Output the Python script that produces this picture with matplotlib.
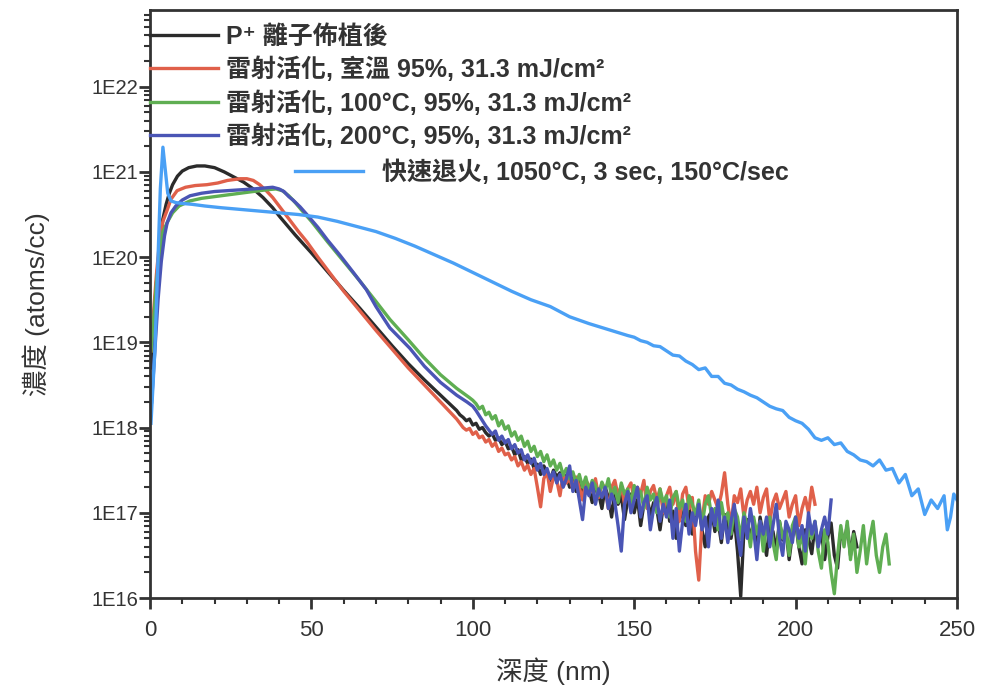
import numpy as np
import matplotlib
matplotlib.use("Agg")
import matplotlib.pyplot as plt
from matplotlib.ticker import LogLocator, MultipleLocator, FixedLocator, FixedFormatter, NullFormatter

# ---------------- data (depth in nm, concentration as log10 atoms/cc) ----------------
# smooth (upper) parts of the profiles
black_x_s = [0.3, 1.0, 2.0, 3.0, 4.0, 5.0, 6.0, 7.0, 8.5, 10, 12, 14.5, 17, 20, 23, 26, 29, 32, 35, 38,
             40.3, 45, 50, 55, 60, 65, 70, 75, 80, 85, 90, 95]
black_l_s = [18.7, 19.1, 19.7, 20.15, 20.45, 20.62, 20.75, 20.85, 20.95, 21.01, 21.05, 21.07, 21.07, 21.05,
             21.0, 20.94, 20.88, 20.8, 20.7, 20.58, 20.47, 20.26, 20.05, 19.83, 19.61, 19.4, 19.18, 18.96,
             18.75, 18.56, 18.38, 18.2]
black_tail_start = 96
black_tail = [18.15, 18.12, 18.08, 18.1, 18.03, 18.05, 17.98, 18.0, 17.94, 17.9,
              17.93, 17.85, 17.88, 17.8, 17.84, 17.75, 17.78, 17.68, 17.74, 17.62,
              17.66, 17.58, 17.63, 17.52, 17.57, 17.45, 17.55, 17.48, 17.38, 17.5,
              17.42, 17.47, 17.35, 17.44, 17.3, 17.41, 17.25, 17.38, 17.2, 17.36,
              17.28, 17.12, 17.34, 17.22, 17.05, 17.3, 17.18, 16.95, 17.25, 17.1,
              17.2, 16.92, 17.15, 17.22, 17.0, 17.18, 16.85, 17.1, 17.2, 16.95,
              17.12, 17.05, 16.8, 17.08, 17.15, 16.9, 17.02, 16.7, 17.1, 16.95,
              16.85, 17.05, 16.75, 16.98, 17.08, 16.8, 16.6, 16.95, 17.02, 16.78,
              16.9, 16.65, 16.98, 16.85, 16.7, 16.95, 16.55, 16.02, 16.8, 16.92,
              16.7, 16.88, 16.6, 16.95, 16.72, 16.5, 16.85, 16.78, 16.55, 16.9,
              16.68, 16.82, 16.45, 16.75, 16.88, 16.6, 16.4, 16.8, 16.7, 16.52,
              16.85, 16.62, 16.78, 16.45, 16.72, 16.88, 16.5, 16.35, 16.8, 16.65,
              16.85, 16.5, 16.78, 16.6]

red_x_s = [0.3, 1.0, 2.0, 3.0, 4.0, 5.3, 6.5, 8.4, 11, 14, 17.6, 21, 24, 27.9, 30, 32, 34, 36, 38, 40,
           43, 46, 48.6, 52, 56, 60, 65, 70, 75, 80, 85, 90, 95]
red_l_s = [18.9, 19.3, 19.8, 20.2, 20.42, 20.55, 20.68, 20.78, 20.82, 20.84, 20.85, 20.87, 20.9, 20.92,
           20.92, 20.9, 20.85, 20.78, 20.7, 20.6, 20.45, 20.3, 20.18, 20.0, 19.8, 19.6, 19.37, 19.14,
           18.92, 18.7, 18.5, 18.3, 18.1]
red_tail_start = 96
red_tail = [18.05, 18.0, 17.97, 17.99, 17.92, 17.95, 17.88, 17.9, 17.83, 17.86,
            17.78, 17.82, 17.72, 17.76, 17.68, 17.7, 17.62, 17.66, 17.55, 17.6,
            17.5, 17.56, 17.45, 17.52, 17.3, 17.07, 17.4, 17.48, 17.25, 17.42,
            17.38, 17.2, 17.45, 17.35, 17.4, 17.28, 17.42, 17.3, 17.15, 17.38,
            17.32, 17.25, 17.4, 17.18, 17.35, 17.28, 17.05, 17.3, 17.38, 17.2,
            17.32, 17.1, 17.28, 17.35, 17.15, 17.3, 17.22, 17.38, 17.05, 17.25,
            17.32, 17.15, 17.28, 17.0, 17.2, 17.3, 17.1, 17.25, 16.9, 17.22,
            17.3, 17.05, 17.18, 16.55, 16.21, 16.9, 17.2, 17.1, 17.25, 17.15,
            17.05, 17.22, 17.47, 17.1, 16.85, 17.2, 17.12, 17.28, 16.95, 17.15,
            17.25, 17.1, 17.3, 17.0, 17.18, 17.28, 16.9, 17.12, 17.22, 17.05,
            17.15, 17.25, 16.95, 17.1, 17.2, 16.85, 17.05, 17.18, 17.0, 17.3,
            17.1]

green_x_s = [0.3, 1.0, 2.0, 3.0, 4.0, 5.5, 7, 9, 12.4, 16, 20, 24, 28, 32, 36, 39, 41, 43, 45, 47,
             50, 55, 60, 65, 70, 74.3, 80, 84.6, 90, 95, 99]
green_l_s = [18.9, 19.2, 19.7, 20.05, 20.3, 20.42, 20.52, 20.6, 20.66, 20.69, 20.71, 20.73, 20.75, 20.77,
             20.79, 20.8, 20.78, 20.72, 20.64, 20.55, 20.42, 20.18, 19.95, 19.72, 19.48, 19.27, 19.03,
             18.83, 18.62, 18.46, 18.35]
green_tail_start = 100
green_tail = [18.32, 18.28, 18.22, 18.25, 18.15, 18.18, 18.1, 18.14, 18.02, 18.08,
              17.98, 18.02, 17.9, 17.95, 17.85, 17.9, 17.78, 17.84, 17.72, 17.78,
              17.66, 17.72, 17.6, 17.68, 17.55, 17.62, 17.5, 17.58, 17.44, 17.52,
              17.4, 17.48, 17.35, 17.45, 17.3, 17.42, 17.25, 17.38, 17.32, 17.2,
              17.36, 17.25, 17.4, 17.18, 17.3, 17.12, 17.35, 17.22, 17.28, 17.1,
              17.32, 17.18, 17.25, 17.05, 17.3, 17.15, 17.22, 17.0, 17.28, 17.12,
              17.2, 16.95, 17.18, 17.25, 17.05, 17.15, 16.9, 17.2, 17.1, 16.98,
              17.15, 16.85, 17.1, 17.2, 16.95, 17.05, 16.8, 17.12, 16.9, 17.0,
              16.75, 17.05, 16.95, 16.7, 17.0, 16.85, 16.6, 16.95, 16.75, 16.9,
              16.55, 16.85, 16.95, 16.65, 16.45, 16.9, 16.7, 16.8, 16.5, 16.85,
              16.95, 16.6, 16.75, 16.4, 16.85, 16.7, 16.9, 16.55, 16.35, 16.8,
              16.65, 16.3, 16.05, 16.5, 16.85, 16.6, 16.9, 16.45, 16.75, 16.3,
              16.55, 16.85, 16.4, 16.7, 16.9, 16.5, 16.3, 16.6, 16.75, 16.4]

blue_x_s = [0.5, 1.5, 2.5, 3.5, 4.5, 5.3, 6.5, 8, 10, 12.4, 16, 20, 24, 27.9, 32, 35, 38, 40, 41.5, 43,
            44.3, 46.5, 48.6, 52, 55, 58.9, 63, 67, 70, 74.3, 80.5, 85, 90, 95, 98.2]
blue_l_s = [18.3, 18.9, 19.5, 19.95, 20.25, 20.4, 20.52, 20.6, 20.67, 20.72, 20.75, 20.77, 20.78, 20.79,
            20.8, 20.81, 20.82, 20.8, 20.77, 20.71, 20.67, 20.59, 20.5, 20.35, 20.2, 20.02, 19.82, 19.62,
            19.42, 19.17, 18.93, 18.72, 18.53, 18.38, 18.3]
blue_tail_start = 100
blue_tail = [18.25, 18.2, 18.14, 18.08, 18.02, 17.97, 17.92, 17.96, 17.85, 17.9,
             17.82, 17.86, 17.75, 17.8, 17.7, 17.74, 17.62, 17.68, 17.58, 17.64,
             17.5, 17.58, 17.45, 17.52, 17.4, 17.48, 17.35, 17.45, 17.3, 17.4,
             17.55, 17.25, 17.38, 17.15, 16.92, 17.3, 17.2, 17.35, 17.1, 17.28,
             17.18, 17.3, 17.05, 17.22, 17.12, 16.85, 16.55, 17.1, 17.25, 17.0,
             17.15, 17.3, 16.95, 17.12, 17.2, 16.8, 17.05, 17.18, 16.9, 17.1,
             16.95, 17.15, 16.7, 17.05, 16.55, 16.9, 17.1, 16.75, 17.0, 16.85,
             17.1, 16.8, 16.95, 16.6, 17.05, 16.85, 17.15, 16.7, 16.95, 16.65,
             16.9, 17.1, 16.75, 16.5, 16.95, 16.7, 17.05, 16.8, 16.45, 16.9,
             16.75, 16.95, 16.6, 16.85, 17.1, 16.7, 16.5, 16.9, 16.8, 16.65,
             16.95, 16.7, 16.85, 16.55, 17.0, 16.75, 16.9, 16.6, 16.8, 16.95,
             16.75, 17.15]

rta_x = [0.3, 1.5, 2.5, 3.2, 4.0, 4.8, 5.5, 6.5, 8, 10, 13, 17, 22, 28, 34, 40, 46, 52, 58, 64, 70, 76,
         82, 88, 94, 100, 106, 112, 118, 124, 130, 136, 142, 148,
         150, 152, 154, 156, 158, 160, 162, 164, 166, 168, 170, 172, 174, 176, 178, 180, 182, 184, 186,
         188, 190, 192, 194, 196, 198, 200, 202, 204, 206, 208, 210, 212, 214, 216, 218, 220, 222, 224,
         226, 228, 230, 232, 234, 236, 238, 240, 242, 244, 246, 247, 248, 249, 250]
rta_l = [18.05, 18.9, 20.0, 20.8, 21.29, 21.0, 20.75, 20.66, 20.64, 20.63, 20.62, 20.6, 20.58, 20.56,
         20.54, 20.52, 20.5, 20.47, 20.42, 20.36, 20.3, 20.22, 20.13, 20.03, 19.93, 19.82, 19.71, 19.6,
         19.5, 19.42, 19.3, 19.22, 19.15, 19.08,
         19.06, 19.02, 19.0, 18.96, 18.95, 18.9, 18.85, 18.84, 18.78, 18.74, 18.68, 18.7, 18.6, 18.6,
         18.52, 18.5, 18.45, 18.42, 18.38, 18.35, 18.3, 18.25, 18.22, 18.2, 18.12, 18.08, 18.05, 17.98,
         17.88, 17.85, 17.88, 17.8, 17.82, 17.72, 17.68, 17.62, 17.6, 17.55, 17.62, 17.5, 17.52, 17.35,
         17.45, 17.2, 17.28, 16.98, 17.15, 17.05, 17.2, 16.8, 16.95, 17.22, 17.15]

labels = ["P\u207a 離子佈植後",
          "雷射活化, 室溫 95%, 31.3 mJ/cm²",
          "雷射活化, 100°C, 95%, 31.3 mJ/cm²",
          "雷射活化, 200°C, 95%, 31.3 mJ/cm²",
          "快速退火, 1050°C, 3 sec, 150°C/sec"]
colors = ["#2b2b2b", "#e0604a", "#5fae52", "#4a55b5", "#4aa0f5"]

x_ticks = [0, 50, 100, 150, 200, 250]
y_ticks = [1e16, 1e17, 1e18, 1e19, 1e20, 1e21, 1e22]
y_ticklabels = ["1E16", "1E17", "1E18", "1E19", "1E20", "1E21", "1E22"]


def series(xs, ls, tstart, tail):
    x = list(xs) + list(np.arange(tstart, tstart + len(tail)))
    y = 10.0 ** np.array(list(ls) + list(tail))
    return np.array(x, dtype=float), y


# ---------------- figure ----------------
fig = plt.figure(figsize=(9.81, 6.90), dpi=100)
ax = fig.add_axes([150 / 981, 1 - 598 / 690, 807 / 981, 588 / 690])

lw = 2.4
curves = [
    series(black_x_s, black_l_s, black_tail_start, black_tail),
    series(red_x_s, red_l_s, red_tail_start, red_tail),
    series(green_x_s, green_l_s, green_tail_start, green_tail),
    series(blue_x_s, blue_l_s, blue_tail_start, blue_tail),
]
handles = []
for (x, y), c in zip(curves, colors[:4]):
    h, = ax.plot(x, y, color=c, lw=lw, solid_joinstyle="round")
    handles.append(h)
h5, = ax.plot(rta_x, 10.0 ** np.array(rta_l), color=colors[4], lw=lw, solid_joinstyle="round")

ax.set_yscale("log")
ax.set_xlim(0, 250)
ax.set_ylim(1e16, 10 ** 22.9)

ax.yaxis.set_major_locator(FixedLocator(y_ticks))
ax.yaxis.set_major_formatter(FixedFormatter(y_ticklabels))
ax.yaxis.set_minor_locator(LogLocator(base=10, subs=np.arange(2, 10), numticks=20))
ax.yaxis.set_minor_formatter(NullFormatter())
ax.xaxis.set_major_locator(FixedLocator(x_ticks))
ax.xaxis.set_minor_locator(MultipleLocator(10))

spc = "#333333"
for s in ax.spines.values():
    s.set_linewidth(2.0)
    s.set_color(spc)
ax.tick_params(axis="both", which="major", direction="out", length=8, width=2.0, color=spc,
               labelcolor="#333333")
ax.tick_params(axis="both", which="minor", direction="out", length=4.5, width=1.5, color=spc)
ax.tick_params(axis="x", which="major", pad=8)
ax.tick_params(axis="y", which="major", pad=0.5)

for t in ax.get_yticklabels():
    t.set_fontfamily(["Liberation Sans", "DejaVu Sans"])
    t.set_fontsize(14.5)
for t in ax.get_xticklabels():
    t.set_fontfamily(["Liberation Sans", "DejaVu Sans"])
    t.set_fontsize(16)

cjk = ["Liberation Sans", "Noto Sans CJK TC", "DejaVu Sans"]
ax.set_xlabel("深度 (nm)", fontsize=19, family=cjk, color="#333333", labelpad=12)
ax.set_ylabel("濃度 (atoms/cc)", fontsize=19, family=cjk, color="#333333", labelpad=30)

leg_font = dict(family=cjk, size=18, weight="bold")
leg1 = ax.legend(handles, labels[:4], loc="upper left", bbox_to_anchor=(0.0, 0.975),
                 frameon=False, prop=leg_font, handlelength=2.7, handletextpad=0.35,
                 labelspacing=0.32, borderpad=0.0, borderaxespad=0.0)
for t in leg1.get_texts():
    t.set_color("#333333")
ax.add_artist(leg1)
leg2 = ax.legend([h5], labels[4:], loc="center left", bbox_to_anchor=(145 / 807, 1 - 162 / 588),
                 frameon=False, prop=leg_font, handlelength=2.7, handletextpad=0.8,
                 borderpad=0.0, borderaxespad=0.0)
for t in leg2.get_texts():
    t.set_color("#333333")

fig.savefig("out.png", dpi=100, facecolor="white")
